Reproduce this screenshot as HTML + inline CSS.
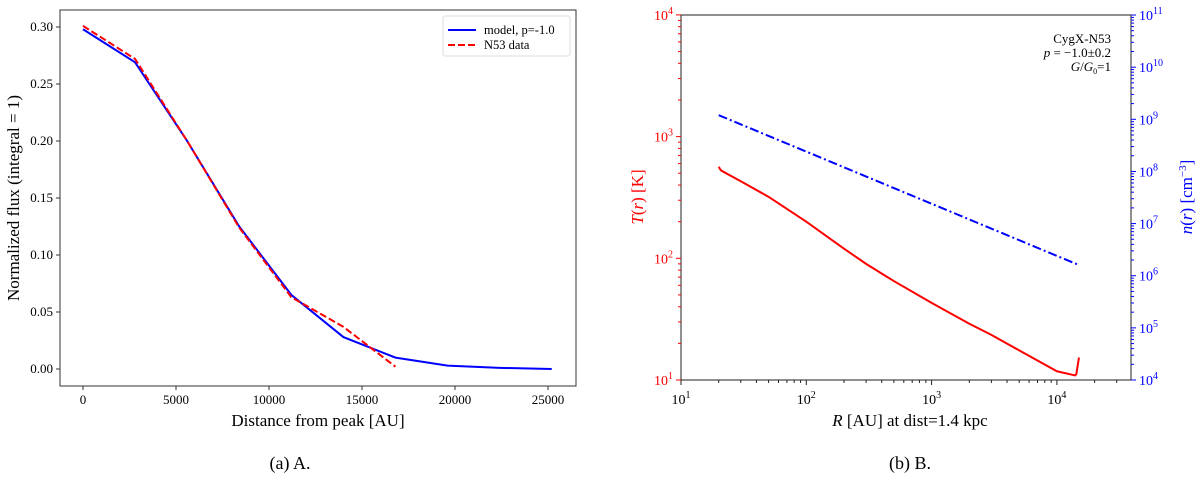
<!DOCTYPE html>
<html><head><meta charset="utf-8"><style>
body{margin:0;background:#fff;width:1200px;height:477px;overflow:hidden}
svg{display:block;font-family:"Liberation Serif",serif}
</style></head><body>
<svg id="fig" width="1200" height="477" viewBox="0 0 1200 477">
<g id="left"></g>
<g id="right"></g>
<text x="290" y="469" font-size="18" text-anchor="middle">(a) A.</text>
<text x="910" y="469" font-size="18" text-anchor="middle">(b) B.</text>
</svg>
<script>
const modelX=[0,2800,5600,8400,11200,14000,16800,19600,22400,25200];
const modelY=[0.298,0.269,0.2,0.125,0.065,0.028,0.01,0.003,0.001,0.0];
const dataX=[0,2800,5600,8400,11200,14000,16800];
const dataY=[0.301,0.272,0.2,0.124,0.063,0.037,0.002];
const xTicksA=[0,5000,10000,15000,20000,25000];
const yTicksA=[0,0.05,0.1,0.15,0.2,0.25,0.3];
const tempR=[20,20.5,21,30,50,100,200,300,500,1000,2000,3000,5000,10000,14000,14300,15000];
const tempT=[565,540,525,430,320,200,120,90,65,43,29,23.5,17.5,11.8,10.9,11.2,15.3];
const densR=[20,100,1000,15000];
const densN=[1.2e9,2.4e8,2.4e7,1.6e6];
const xTicksB=[1,2,3,4];
const yTicksT=[1,2,3,4];
const yTicksN=[4,5,6,7,8,9,10,11];
const NS="http://www.w3.org/2000/svg";
function mk(p,t,a,txt){const e=document.createElementNS(NS,t);for(const k in a)e.setAttribute(k,a[k]);if(txt!==undefined)e.textContent=txt;p.appendChild(e);return e;}
// Panel A
const L=document.getElementById('left');
const ax=v=>83+v*(548-83)/25000, ay=v=>369-v*(369-27)/0.3;
let e=mk(L,'rect',{x:60,y:10,width:516,height:376,fill:'none',stroke:'#333','stroke-width':1});

xTicksA.forEach(t=>{mk(L,'line',{x1:ax(t),x2:ax(t),y1:386,y2:390,stroke:'#333'});
 e=mk(L,'text',{x:ax(t),y:404,'font-size':13,'text-anchor':'middle'},String(t));
 });
yTicksA.forEach(t=>{mk(L,'line',{x1:56,x2:60,y1:ay(t),y2:ay(t),stroke:'#333'});
 e=mk(L,'text',{x:53,y:ay(t)+4,'font-size':13,'text-anchor':'end'},t.toFixed(2));
 });
e=mk(L,'text',{x:318,y:426,'font-size':17,'text-anchor':'middle'},'Distance from peak [AU]');

e=mk(L,'text',{x:0,y:0,'font-size':17,'text-anchor':'middle',transform:'translate(19,198) rotate(-90)'},'Normalized flux (integral = 1)');

e=mk(L,'polyline',{points:modelX.map((x,i)=>ax(x)+','+ay(modelY[i])).join(' '),fill:'none',stroke:'#0000ff','stroke-width':2});

e=mk(L,'polyline',{points:dataX.map((x,i)=>ax(x)+','+ay(dataY[i])).join(' '),fill:'none',stroke:'#ff0000','stroke-width':2,'stroke-dasharray':'7,3'});

e=mk(L,'rect',{x:443,y:16,width:127,height:40,fill:'#fff',stroke:'#ddd',rx:2});

mk(L,'line',{x1:448,x2:476,y1:30,y2:30,stroke:'#0000ff','stroke-width':2});
e=mk(L,'text',{x:484,y:34,'font-size':12.5},'model, p=-1.0');

mk(L,'line',{x1:448,x2:476,y1:45,y2:45,stroke:'#ff0000','stroke-width':2,'stroke-dasharray':'7,3'});
e=mk(L,'text',{x:484,y:49,'font-size':12.5},'N53 data');

// Panel B
const R=document.getElementById('right');
const bx=v=>681+(Math.log10(v)-1)*125.3;
const by=v=>380-(Math.log10(v)-1)*121.7;
const bn=v=>380-(Math.log10(v)-4)*52.14;
e=mk(R,'rect',{x:681,y:15,width:450,height:365,fill:'none',stroke:'#222','stroke-width':1});

for(let d=1;d<=4;d++)for(let m=1;m<10;m++){const v=m*Math.pow(10,d);const X=bx(v);if(X>1131)break;
 mk(R,'line',{x1:X,x2:X,y1:380,y2:m==1?385:383,stroke:'#222'});}
xTicksB.forEach(t=>{e=mk(R,'text',{x:bx(Math.pow(10,t)),y:404,'font-size':14,'text-anchor':'middle'});
 e.innerHTML='10<tspan dy="-6" font-size="10">'+t+'</tspan>';
 });
for(let d=1;d<4;d++)for(let m=1;m<10;m++){const Y=by(m*Math.pow(10,d));mk(R,'line',{x1:m==1?676:678,x2:681,y1:Y,y2:Y,stroke:'#ff0000'});}
mk(R,'line',{x1:676,x2:681,y1:by(1e4),y2:by(1e4),stroke:'#ff0000'});
yTicksT.forEach(t=>{e=mk(R,'text',{x:673,y:by(Math.pow(10,t))+5,'font-size':14,'text-anchor':'end',fill:'#ff0000'});
 e.innerHTML='10<tspan dy="-6" font-size="10">'+t+'</tspan>';
 });
for(let d=4;d<11;d++)for(let m=1;m<10;m++){const Y=bn(m*Math.pow(10,d));mk(R,'line',{x1:1131,x2:m==1?1136:1134,y1:Y,y2:Y,stroke:'#0000ff'});}
mk(R,'line',{x1:1131,x2:1136,y1:bn(1e11),y2:bn(1e11),stroke:'#0000ff'});
yTicksN.forEach(t=>{e=mk(R,'text',{x:1139,y:bn(Math.pow(10,t))+5,'font-size':14,fill:'#0000ff'});
 e.innerHTML='10<tspan dy="-6" font-size="10">'+t+'</tspan>';
 });
e=mk(R,'text',{x:910,y:426,'font-size':17,'text-anchor':'middle'});
e.innerHTML='<tspan font-style="italic">R</tspan> [AU] at dist=1.4 kpc';

e=mk(R,'text',{x:0,y:0,'font-size':17,'text-anchor':'middle',fill:'#ff0000',transform:'translate(643,197) rotate(-90)'});
e.innerHTML='<tspan font-style="italic">T</tspan>(<tspan font-style="italic">r</tspan>) [K]';

e=mk(R,'text',{x:0,y:0,'font-size':17,'text-anchor':'middle',fill:'#0000ff',transform:'translate(1192,197) rotate(-90)'});
e.innerHTML='<tspan font-style="italic">n</tspan>(<tspan font-style="italic">r</tspan>) [cm<tspan dy="-6" font-size="11">−3</tspan><tspan dy="6">]</tspan>';

e=mk(R,'polyline',{points:tempR.map((x,i)=>bx(x)+','+by(tempT[i])).join(' '),fill:'none',stroke:'#ff0000','stroke-width':2});

e=mk(R,'polyline',{points:densR.map((x,i)=>bx(x)+','+bn(densN[i])).join(' '),fill:'none',stroke:'#0000ff','stroke-width':2,'stroke-dasharray':'9,3,2,3'});

const ann=['CygX-N53','<tspan font-style="italic">p</tspan> = −1.0±0.2','<tspan font-style="italic">G</tspan>/<tspan font-style="italic">G</tspan><tspan font-size="8" dy="3">0</tspan><tspan dy="-3">=1</tspan>'];
ann.forEach((a,i)=>{e=mk(R,'text',{x:1111,y:43+i*14,'font-size':13,'text-anchor':'end'});e.innerHTML=a;
 });
</script>
</body></html>
